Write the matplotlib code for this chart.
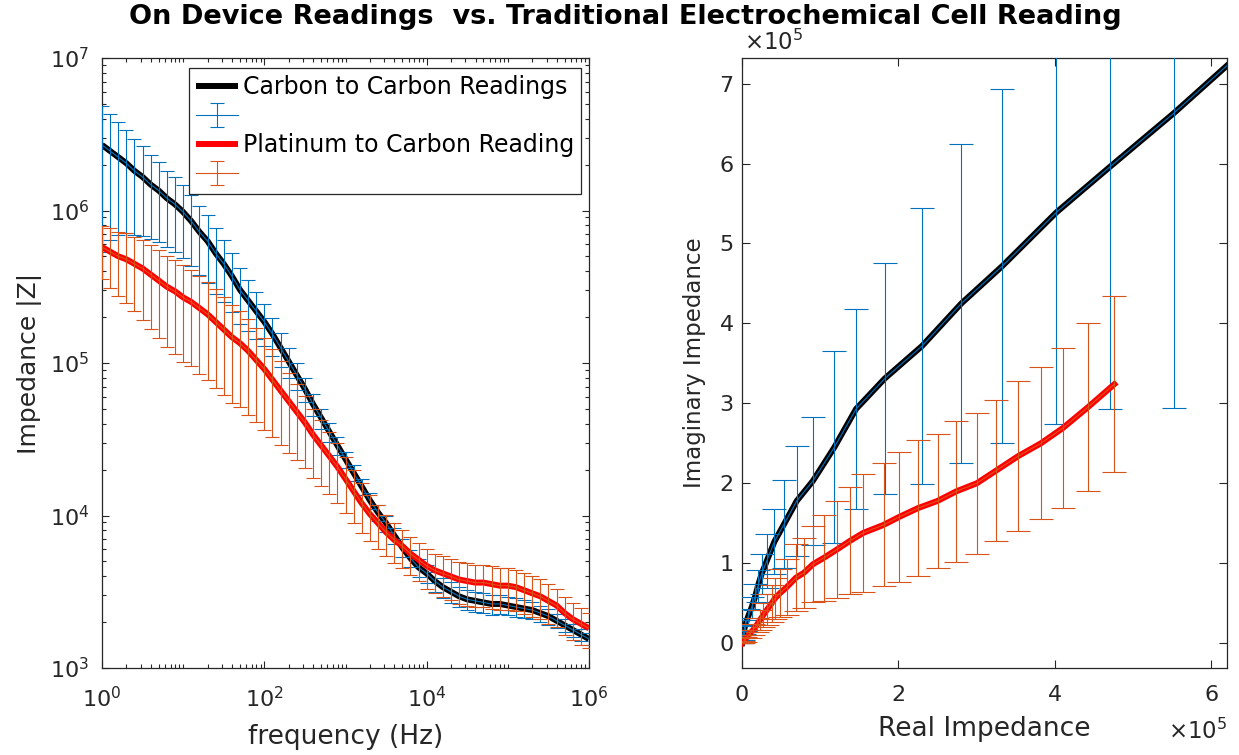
import numpy as np
import matplotlib
matplotlib.use("Agg")
import matplotlib.pyplot as plt
from matplotlib.ticker import LogLocator, FixedLocator, FuncFormatter, NullFormatter

# ---------------- data ----------------
freq_hz = [1.0, 1.259, 1.585, 1.995, 2.512, 3.162, 3.981, 5.012, 6.310, 7.943,
           10.0, 12.59, 15.85, 19.95, 25.12, 31.62, 39.81, 50.12, 63.10, 79.43,
           100.0, 125.9, 158.5, 199.5, 251.2, 316.2, 398.1, 501.2, 631.0, 794.3,
           1e3, 1.259e3, 1.585e3, 1.995e3, 2.512e3, 3.162e3, 3.981e3, 5.012e3, 6.310e3, 7.943e3,
           1e4, 1.259e4, 1.585e4, 1.995e4, 2.512e4, 3.162e4, 3.981e4, 5.012e4, 6.310e4, 7.943e4,
           1e5, 1.259e5, 1.585e5, 1.995e5, 2.512e5, 3.162e5, 3.981e5, 5.012e5, 6.310e5, 7.943e5,
           1e6]

# log10 |Z| of the carbon-to-carbon readings
carbon_log_z = [6.43, 6.39, 6.35, 6.31, 6.26, 6.22, 6.17, 6.13, 6.08, 6.04,
                5.99, 5.93, 5.86, 5.80, 5.72, 5.65, 5.57, 5.48, 5.41, 5.34,
                5.27, 5.19, 5.10, 5.01, 4.92, 4.83, 4.73, 4.64, 4.55, 4.46,
                4.37, 4.28, 4.19, 4.10, 4.02, 3.95, 3.87, 3.79, 3.72, 3.66,
                3.62, 3.57, 3.53, 3.50, 3.47, 3.45, 3.44, 3.43, 3.42, 3.42,
                3.41, 3.40, 3.39, 3.38, 3.36, 3.34, 3.31, 3.28, 3.25, 3.22,
                3.19]
# log10 |Z| of the platinum-to-carbon readings
platinum_log_z = [5.76, 5.73, 5.70, 5.68, 5.65, 5.62, 5.58, 5.54, 5.50, 5.47,
                  5.43, 5.40, 5.36, 5.32, 5.27, 5.22, 5.17, 5.13, 5.08, 5.02,
                  4.96, 4.89, 4.82, 4.75, 4.68, 4.61, 4.53, 4.46, 4.39, 4.32,
                  4.24, 4.16, 4.08, 4.01, 3.95, 3.89, 3.84, 3.80, 3.75, 3.71,
                  3.67, 3.64, 3.62, 3.60, 3.58, 3.57, 3.56, 3.56, 3.55, 3.54,
                  3.54, 3.53, 3.51, 3.49, 3.47, 3.44, 3.41, 3.36, 3.32, 3.29,
                  3.26]
# error bar half-length as a fraction of |Z|
carbon_rel_err = [0.80, 0.74, 0.69, 0.65, 0.62, 0.59, 0.56, 0.54, 0.52, 0.51,
                  0.50, 0.49, 0.48, 0.47, 0.46, 0.44, 0.42, 0.40, 0.37, 0.34,
                  0.31, 0.28, 0.25, 0.22, 0.20, 0.18, 0.16, 0.15, 0.14, 0.13,
                  0.12, 0.12, 0.12, 0.12, 0.12, 0.12, 0.12, 0.13, 0.13, 0.14,
                  0.14, 0.15, 0.15, 0.15, 0.15, 0.15, 0.15, 0.15, 0.15, 0.14,
                  0.14, 0.14, 0.13, 0.13, 0.12, 0.12, 0.11, 0.10, 0.10, 0.09,
                  0.09]
platinum_rel_err = [0.38, 0.42, 0.45, 0.48, 0.51, 0.54, 0.56, 0.58, 0.60, 0.61,
                    0.62, 0.62, 0.63, 0.63, 0.63, 0.63, 0.63, 0.62, 0.62, 0.61,
                    0.60, 0.58, 0.56, 0.54, 0.52, 0.50, 0.48, 0.46, 0.44, 0.42,
                    0.40, 0.38, 0.36, 0.34, 0.32, 0.30, 0.29, 0.28, 0.28, 0.28,
                    0.29, 0.29, 0.30, 0.30, 0.31, 0.31, 0.31, 0.31, 0.31, 0.31,
                    0.31, 0.30, 0.30, 0.30, 0.29, 0.29, 0.28, 0.28, 0.27, 0.27,
                    0.26]

# Nyquist data, in units of 1e5 ohm
carbon_real = [0.0, 0.003, 0.007, 0.012, 0.018, 0.026, 0.040, 0.077, 0.124, 0.167,
               0.205, 0.252, 0.317, 0.414, 0.538, 0.700, 0.906, 1.180, 1.458, 1.824,
               2.304, 2.804, 3.330, 4.020, 4.705, 5.520, 6.400]
carbon_imag = [0.0, 0.03, 0.06, 0.09, 0.12, 0.16, 0.22, 0.33, 0.45, 0.58,
               0.72, 0.87, 1.03, 1.27, 1.49, 1.78, 2.03, 2.45, 2.93, 3.31,
               3.72, 4.25, 4.72, 5.39, 5.96, 6.63, 7.40]
carbon_imag_err = [0.0, 0.01, 0.02, 0.03, 0.04, 0.05, 0.07, 0.10, 0.13, 0.16,
                   0.20, 0.25, 0.34, 0.41, 0.55, 0.69, 0.80, 1.20, 1.25, 1.44,
                   1.73, 2.00, 2.21, 2.65, 3.03, 3.69, 4.20]
platinum_real = [0.0, 0.01, 0.04, 0.10, 0.145, 0.19, 0.23, 0.27, 0.32, 0.38,
                 0.42, 0.49, 0.57, 0.69, 0.79, 0.91, 1.05, 1.21, 1.38, 1.55,
                 1.81, 2.01, 2.25, 2.50, 2.74, 3.00, 3.25, 3.53, 3.82, 4.10,
                 4.42, 4.76]
platinum_imag = [0.0, 0.015, 0.05, 0.12, 0.17, 0.23, 0.29, 0.35, 0.42, 0.50,
                 0.56, 0.63, 0.70, 0.82, 0.88, 0.99, 1.07, 1.17, 1.28, 1.38,
                 1.48, 1.58, 1.69, 1.78, 1.90, 2.00, 2.16, 2.34, 2.50, 2.69,
                 2.95, 3.24]
platinum_imag_err = [0.0, 0.01, 0.03, 0.05, 0.07, 0.09, 0.12, 0.15, 0.19, 0.23,
                     0.26, 0.30, 0.35, 0.42, 0.44, 0.48, 0.54, 0.61, 0.67, 0.74,
                     0.77, 0.81, 0.85, 0.84, 0.88, 0.88, 0.88, 0.94, 0.95, 1.00,
                     1.05, 1.10]

legend_labels = ["Carbon to Carbon Readings", "", "Platinum to Carbon Reading", ""]
title_text = "On Device Readings  vs. Traditional Electrochemical Cell Reading"

# ---------------- styling ----------------
C_BLUE = "#0072BD"
C_ORANGE = "#D95319"
C_AX = "#262626"
LW = 4.3
plt.rcParams["font.family"] = ["DejaVu Sans"]
plt.rcParams["mathtext.default"] = "regular"

fig = plt.figure(figsize=(12.39, 7.55), dpi=100)
ax1 = fig.add_axes([102 / 1239, 1 - 668 / 755, 487 / 1239, 610 / 755])
ax2 = fig.add_axes([742 / 1239, 1 - 668 / 755, 485 / 1239, 610 / 755])

f = np.array(freq_hz)
zc = 10 ** np.array(carbon_log_z)
zp = 10 ** np.array(platinum_log_z)
ec = zc * np.array(carbon_rel_err)
ep = zp * np.array(platinum_rel_err)

# ---------- left: Bode magnitude ----------
h1, = ax1.plot(f, zc, color="black", lw=LW, solid_capstyle="butt", zorder=2)
e1 = ax1.errorbar(f, zc, yerr=ec, color=C_BLUE, lw=0.8, elinewidth=0.8,
                  capsize=5, capthick=0.8, zorder=3)
h2, = ax1.plot(f, zp, color="#FF0000", lw=LW, solid_capstyle="butt", zorder=4)
e2 = ax1.errorbar(f, zp, yerr=ep, color=C_ORANGE, lw=0.8, elinewidth=0.8,
                  capsize=5, capthick=0.8, zorder=5)

ax1.set_xscale("log")
ax1.set_yscale("log")
ax1.set_xlim(1, 1e6)
ax1.set_ylim(1e3, 1e7)
ax1.xaxis.set_major_locator(FixedLocator([1, 1e2, 1e4, 1e6]))
ax1.xaxis.set_minor_locator(LogLocator(base=10, subs=np.arange(1, 10), numticks=50))
ax1.xaxis.set_minor_formatter(NullFormatter())
ax1.xaxis.set_major_formatter(FuncFormatter(lambda v, p: r"$10^{%d}$" % round(np.log10(v))))
ax1.yaxis.set_major_locator(FixedLocator([1e3, 1e4, 1e5, 1e6, 1e7]))
ax1.yaxis.set_minor_locator(LogLocator(base=10, subs=np.arange(2, 10), numticks=50))
ax1.yaxis.set_minor_formatter(NullFormatter())
ax1.yaxis.set_major_formatter(FuncFormatter(lambda v, p: r"$10^{%d}$" % round(np.log10(v))))
ax1.set_xlabel("frequency (Hz)", fontsize=19, color=C_AX, labelpad=9)
ax1.set_ylabel("Impedance |Z|", fontsize=18, color=C_AX, labelpad=6)

leg = ax1.legend([h1, e1, h2, e2], legend_labels, loc="upper right",
                 bbox_to_anchor=(0.984, 0.984), borderaxespad=0, fontsize=17,
                 handlelength=1.75, handletextpad=0.22, labelspacing=0.22,
                 borderpad=0.3, fancybox=False, framealpha=1)
leg.get_frame().set_edgecolor(C_AX)
leg.get_frame().set_linewidth(0.9)

# ---------- right: Nyquist ----------
cr = np.array(carbon_real) * 1e5
ci = np.array(carbon_imag) * 1e5
ce = np.array(carbon_imag_err) * 1e5
pr = np.array(platinum_real) * 1e5
pi_ = np.array(platinum_imag) * 1e5
pe = np.array(platinum_imag_err) * 1e5

ax2.plot(cr, ci, color="black", lw=LW, zorder=2)
ax2.errorbar(cr, ci, yerr=ce, color=C_BLUE, lw=0.8, elinewidth=0.8,
             capsize=8.5, capthick=0.8, zorder=3)
ax2.plot(pr, pi_, color="#FF0000", lw=LW, zorder=4)
ax2.errorbar(pr, pi_, yerr=pe, color=C_ORANGE, lw=0.8, elinewidth=0.8,
             capsize=8.5, capthick=0.8, zorder=5)
ax2.set_xlim(0, 6.2e5)
ax2.set_ylim(-0.31e5, 7.32e5)
ax2.xaxis.set_major_locator(FixedLocator([0, 2e5, 4e5, 6e5]))
ax2.yaxis.set_major_locator(FixedLocator([0, 1e5, 2e5, 3e5, 4e5, 5e5, 6e5, 7e5]))
ax2.xaxis.set_major_formatter(FuncFormatter(lambda v, p: "%d" % round(v / 1e5)))
ax2.yaxis.set_major_formatter(FuncFormatter(lambda v, p: "%d" % round(v / 1e5)))
ax2.set_xlabel("Real Impedance", fontsize=19, color=C_AX, labelpad=8)
ax2.set_ylabel("Imaginary Impedance", fontsize=16.5, color=C_AX, labelpad=10)
ax2.text(0.005, 1.005, r"$\times10^{5}$", transform=ax2.transAxes, fontsize=16.5,
         color=C_AX, ha="left", va="bottom")
ax2.text(1.0, -0.103, r"$\times10^{5}$", transform=ax2.transAxes, fontsize=16.5,
         color=C_AX, ha="right", va="center")

for ax in (ax1, ax2):
    for s in ax.spines.values():
        s.set_color(C_AX)
        s.set_linewidth(0.9)
    ax.tick_params(which="both", direction="in", top=True, right=True,
                   colors=C_AX, labelsize=16, width=0.8)
    ax.tick_params(which="major", length=5)
    ax.tick_params(which="minor", length=3)
ax1.tick_params(axis="x", which="major", pad=13)
ax1.tick_params(axis="y", which="major", pad=9)
ax2.tick_params(axis="x", which="major", pad=12, length=6)
ax2.tick_params(axis="y", which="major", pad=6, length=6)

fig.text(0.505, 0.978, title_text, ha="center", va="center", fontsize=19.5,
         fontweight="bold", color="black")

fig.savefig("out.png", dpi=100)
